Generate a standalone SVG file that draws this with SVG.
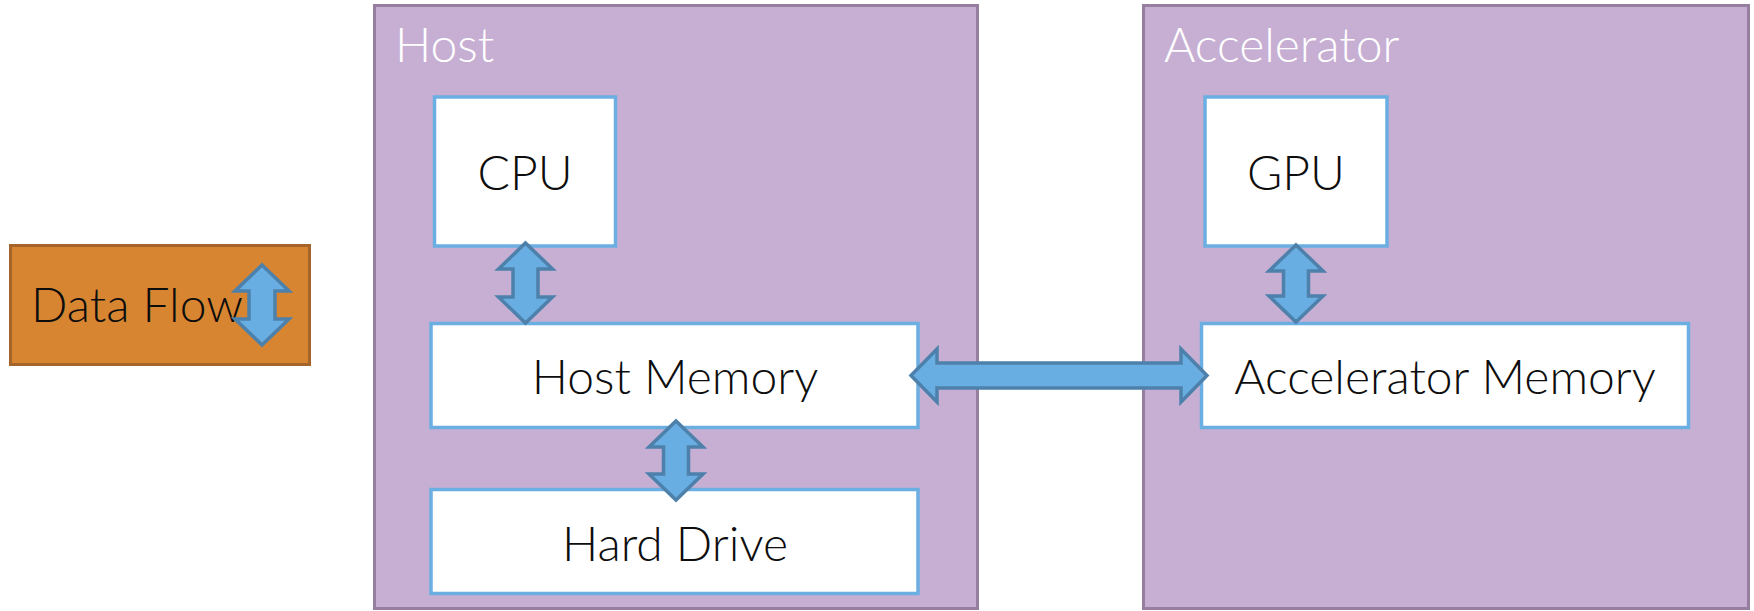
<svg xmlns="http://www.w3.org/2000/svg" width="1754" height="611" viewBox="0 0 1754 611">
<style>
.container{fill:#c7afd3;stroke:#967e9f;stroke-width:3}
.box{fill:#ffffff;stroke:#6aaee2;stroke-width:3.5}
.legend{fill:#d88532;stroke:#a4642a;stroke-width:3}
.arrow{fill:#68aee2;stroke:#4d81ab;stroke-width:3.5;stroke-linejoin:miter}
.t{font-family:Lato,"Open Sans","Liberation Sans",sans-serif;font-weight:300;font-size:48px;fill:#0d0d0d}
.title{font-family:Lato,"Open Sans","Liberation Sans",sans-serif;font-weight:300;font-size:48px;fill:#ffffff}
</style>
<rect width="1754" height="611" fill="#ffffff"/>
<g id="legend">
<rect class="legend" x="10.5" y="245.5" width="299" height="119"/>
<text class="t" x="31" y="322">Data Flow</text>
<path class="arrow" d="M262,265 L289,291 L275,291 L275,319 L289,319 L262,345 L235,319 L249,319 L249,291 L235,291 Z"/>
</g>
<g id="host">
<rect class="container" x="374.5" y="5.5" width="603" height="603"/>
<text class="title" x="395" y="62">Host</text>
</g>
<g id="accelerator">
<rect class="container" x="1143.5" y="5.5" width="605" height="603"/>
<text class="title" x="1164" y="62">Accelerator</text>
</g>
<g id="cpu">
<rect class="box" x="434.5" y="97" width="181" height="149"/>
<text class="t" x="525" y="190" text-anchor="middle">CPU</text>
</g>
<g id="host-memory">
<rect class="box" x="431" y="323.5" width="487" height="104"/>
<text class="t" x="675" y="394" text-anchor="middle">Host Memory</text>
</g>
<g id="hard-drive">
<rect class="box" x="431" y="489.5" width="487" height="104"/>
<text class="t" x="675" y="561" text-anchor="middle">Hard Drive</text>
</g>
<g id="gpu">
<rect class="box" x="1205" y="97" width="182" height="149"/>
<text class="t" x="1296" y="190" text-anchor="middle">GPU</text>
</g>
<g id="accelerator-memory">
<rect class="box" x="1201.5" y="323.5" width="487" height="104"/>
<text class="t" x="1445" y="394" text-anchor="middle">Accelerator Memory</text>
</g>
<g id="connectors">
<path class="arrow" d="M525.5,243 L552.5,269 L538,269 L538,297 L552.5,297 L525.5,323 L498.5,297 L513,297 L513,269 L498.5,269 Z"/>
<path class="arrow" d="M676,421 L703,447 L688.5,447 L688.5,474 L703,474 L676,500 L649,474 L663.5,474 L663.5,447 L649,447 Z"/>
<path class="arrow" d="M1296,245 L1323,271 L1308.5,271 L1308.5,296 L1323,296 L1296,322 L1269,296 L1283.5,296 L1283.5,271 L1269,271 Z"/>
<path class="arrow" d="M911,375.5 L937,349 L937,363 L1181,363 L1181,349 L1207,375.5 L1181,402 L1181,388 L937,388 L937,402 Z"/>
</g>
</svg>
